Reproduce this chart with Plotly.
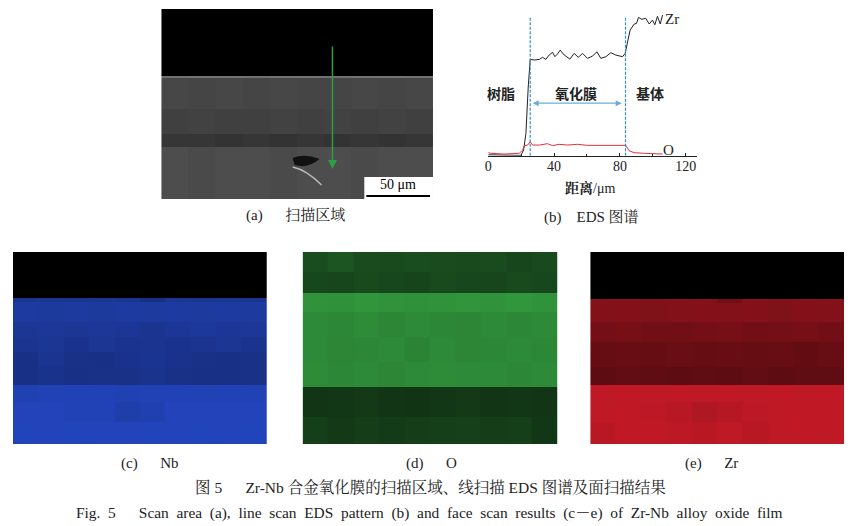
import plotly.graph_objects as go

W = 856
H = 526

# EDS line scan
zr_x = [0, 10, 19.8, 21.5, 22.9, 24.3, 25.5, 27.9, 31.0, 33.0, 35.0, 37.0, 39.1, 40.5, 42.1, 43.7, 46.2, 49.6,
        52.2, 54.7, 57.3, 60.3, 63.4, 66.0, 68.4, 71.5, 74.5, 77.5, 81.6, 83.2, 84.6, 86.2, 88.7, 90.1, 91.3,
        93.3, 95.7, 97.8, 99.8, 101.2, 102.8, 104.5, 105.9]
zr_y = [0.6, 0.4, 0.2, 3.8, 14.9, 45.8, 64.2, 63.8, 64.2, 65.6, 64.2, 67.1, 68.9, 66.0, 67.8, 70.4, 67.1, 64.4,
        68.2, 65.6, 68.2, 64.9, 66.4, 69.3, 64.9, 66.0, 68.7, 67.1, 66.0, 68.2, 76.0, 83.8, 87.8, 88.2, 92.2,
        90.9, 91.6, 87.8, 90.4, 87.3, 92.9, 87.8, 93.8]
o_x = [0, 1.6, 9.7, 18.8, 21.0, 21.9, 23.9, 25.5, 26.9, 31.0, 36.0, 39.1, 43.0, 48.2, 54.2, 60.3, 70.4, 78.5,
       83.6, 85.6, 88.7, 94.8, 100.8, 105.9]
o_y = [2.0, 1.6, 1.1, 1.6, 3.8, 6.7, 7.1, 9.3, 7.1, 7.1, 8.0, 6.7, 7.6, 7.1, 7.6, 6.9, 6.9, 6.7,
       6.9, 3.3, 2.0, 1.6, 1.6, 1.1]
boundary_x = [25.5, 83.4]
x_ticks = [0, 40, 80, 120]

# image panels: rough brightness per block, band edges counted from the panel top
sem_edges = [0, 67, 69, 100, 125, 138, 190]
sem_grid = [
    [0, 0, 0, 0, 0, 0, 0, 0, 0, 0],
    [.44, .45, .45, .44, .45, .45, .44, .45, .45, .44],
    [.28, .27, .28, .27, .28, .27, .27, .28, .27, .28],
    [.25, .26, .25, .25, .26, .25, .26, .25, .26, .25],
    [.21, .21, .20, .21, .20, .21, .20, .21, .20, .21],
    [.30, .29, .30, .30, .29, .30, .30, .29, .30, .30],
]
nb_edges = [0, 46, 50, 70, 85, 100, 115, 133, 150, 170, 192]
nb_grid = [
    [0, 0, 0, 0, 0, 0, 0, 0, 0, 0],
    [.66, .67, .66, .67, .66, .60, .67, .66, .67, .66],
    [.73, .71, .72, .71, .73, .72, .73, .72, .73, .72],
    [.67, .69, .67, .69, .68, .65, .68, .70, .68, .69],
    [.65, .67, .63, .67, .64, .65, .63, .65, .67, .64],
    [.61, .65, .62, .61, .63, .66, .63, .62, .61, .62],
    [.61, .63, .61, .62, .62, .64, .62, .61, .61, .62],
    [.81, .82, .83, .83, .81, .82, .83, .82, .83, .82],
    [.84, .84, .83, .83, .77, .80, .84, .84, .84, .84],
    [.85, .84, .85, .84, .84, .85, .84, .85, .84, .85],
]
ox_edges = [0, 20, 41, 60, 85, 110, 135, 165, 192]
ox_grid = [
    [.42, .46, .41, .40, .42, .41, .40, .41, .38, .40],
    [.39, .38, .40, .39, .37, .40, .39, .38, .40, .39],
    [.80, .79, .81, .80, .79, .80, .81, .80, .82, .80],
    [.75, .74, .76, .73, .75, .74, .73, .75, .74, .75],
    [.75, .73, .74, .75, .72, .75, .73, .74, .75, .74],
    [.76, .74, .75, .73, .75, .76, .75, .75, .74, .75],
    [.29, .30, .31, .29, .28, .30, .31, .29, .30, .29],
    [.34, .31, .33, .32, .33, .34, .35, .33, .34, .30],
]
zr_edges = [0, 47, 51, 70, 90, 115, 133, 150, 170, 192]
zr_grid = [
    [0, 0, 0, 0, 0, 0, 0, 0, 0, 0],
    [.60, .61, .60, .61, .60, .52, .61, .60, .61, .60],
    [.60, .61, .59, .60, .61, .60, .61, .59, .61, .60],
    [.54, .55, .53, .52, .54, .55, .53, .54, .55, .53],
    [.47, .48, .47, .49, .47, .48, .47, .48, .46, .48],
    [.43, .45, .44, .43, .44, .43, .45, .43, .44, .44],
    [.88, .89, .88, .89, .88, .89, .88, .89, .88, .89],
    [.88, .89, .87, .85, .81, .84, .87, .88, .89, .88],
    [.85, .89, .89, .87, .85, .88, .85, .88, .89, .88],
]
block_x = [0, .1, .2, .3, .4, .5, .6, .7, .8, .9, 1]


def px(x):
    return x / W


def py(y):
    return 1 - y / H


PANELS = [
    # name, left, top, right, bottom, colour, edges, grid
    ("a", 158, 9, 431, 199, "#ffffff", sem_edges, sem_grid),
    ("c", 9, 252, 264, 444, "#2850dc", nb_edges, nb_grid),
    ("d", 300, 252, 556, 444, "#3cb84a", ox_edges, ox_grid),
    ("e", 589, 252, 844, 444, "#d81c2a", zr_edges, zr_grid),
]

fig = go.Figure()
layout_axes = {}
for i, (name, left, top, right, bottom, colour, edges, grid) in enumerate(PANELS, start=2):
    fig.add_trace(go.Heatmap(
        x=block_x,
        y=edges,
        z=grid,
        zmin=0, zmax=1,
        colorscale=[[0, "#000000"], [1, colour]],
        showscale=False,
        hoverinfo="skip",
        xaxis=f"x{i}",
        yaxis=f"y{i}",
    ))
    layout_axes[f"xaxis{i}"] = dict(domain=[px(left), px(right)], range=[0, 1], visible=False,
                                    anchor=f"y{i}", fixedrange=True)
    layout_axes[f"yaxis{i}"] = dict(domain=[py(bottom), py(top)], range=[edges[-1], 0], visible=False,
                                    anchor=f"x{i}", fixedrange=True)

# EDS chart on the main axes
fig.add_trace(go.Scatter(x=zr_x, y=zr_y, mode="lines", line=dict(color="#222222", width=1), hoverinfo="skip"))
fig.add_trace(go.Scatter(x=o_x, y=o_y, mode="lines", line=dict(color="#e0303f", width=1), hoverinfo="skip"))
for bx in boundary_x:
    fig.add_shape(type="line", x0=bx, x1=bx, y0=0, y1=93, xref="x", yref="y",
                  line=dict(color="#2f8fc8", width=1.2, dash="3px,1.5px"))

SERIF = "Liberation Serif, Noto Serif CJK SC, Noto Sans CJK SC"
CJK = "Noto Sans CJK SC"


def label(x, y, text, size=15, color="#222222", family=SERIF):
    fig.add_annotation(x=px(x), y=py(y), xref="paper", yref="paper", text=text, showarrow=False,
                       font=dict(size=size, color=color, family=family), xanchor="center", yanchor="middle")


# double headed arrow across the oxide film
fig.add_annotation(x=27, y=35, ax=82, ay=35, xref="x", yref="y", axref="x", ayref="y", text="",
                   showarrow=True, arrowhead=2, arrowside="end+start", arrowsize=1, arrowwidth=1.2,
                   arrowcolor="#6aaed6")

label(499, 93, "<b>树脂</b>", 14, family=CJK)
label(575, 93, "<b>氧化膜</b>", 14, family=CJK)
label(649, 93, "<b>基体</b>", 14, family=CJK)
label(671, 19, "Zr", 15)
label(668, 150, "O", 15)
label(589, 188, "<b>距离</b>/μm", 14)

# scale box, scan arrow and crater in the SEM image
fig.add_shape(type="rect", x0=px(362), x1=px(431), y0=py(177), y1=py(199), xref="paper", yref="paper",
              fillcolor="white", line=dict(width=0))
fig.add_shape(type="line", x0=px(364), x1=px(428), y0=py(196), y1=py(196), xref="paper", yref="paper",
              line=dict(color="black", width=2))
label(396, 184, "50 μm", 14, color="black")
fig.add_shape(type="path", xref="paper", yref="paper", fillcolor="#111111", line=dict(width=0),
              path=f"M {px(290)} {py(158)} Q {px(302)} {py(153)} {px(317)} {py(159)} Q {px(305)} {py(169)} {px(292)} {py(165)} Z")
fig.add_shape(type="path", xref="paper", yref="paper", line=dict(color="#b8b8b8", width=1.5),
              path=f"M {px(290)} {py(167)} Q {px(304)} {py(170)} {px(319)} {py(185)}")
fig.add_annotation(x=px(330), y=py(169), xref="paper", yref="paper", ax=0, ay=-124, text="",
                   showarrow=True, arrowhead=2, arrowsize=1.2, arrowwidth=1.5, arrowcolor="#2e9e44")

# captions
EN = "\u2002"
label(293, 216, f"(a){EN}{EN}{EN}扫描区域")
label(590, 217, f"(b){EN}{EN}EDS 图谱")
label(146, 463, f"(c){EN}{EN}{EN}Nb")
label(430, 463, f"(d){EN}{EN}{EN}O")
label(711, 463, f"(e){EN}{EN}{EN}Zr")
label(428, 487, f"图 5{EN}{EN}{EN}Zr-Nb 合金氧化膜的扫描区域、线扫描 EDS 图谱及面扫描结果", 15.5)
fig_en = "Fig. 5   Scan area (a), line scan EDS pattern (b) and face scan results (c－e) of Zr-Nb alloy oxide film"
label(427, 513, fig_en.replace(" ", EN), 15.4)

fig.update_layout(
    width=W, height=H,
    margin=dict(l=0, r=0, t=0, b=0),
    paper_bgcolor="white",
    plot_bgcolor="rgba(0,0,0,0)",
    showlegend=False,
    xaxis=dict(domain=[px(486.5), px(696.7)], range=[0, 127.1], tickmode="array", tickvals=x_ticks,
               showgrid=False, zeroline=False, showline=True, linecolor="#222222", linewidth=1,
               ticks="inside", ticklen=3, tickcolor="#222222", minor=dict(dtick=20, ticks="inside", ticklen=2),
               ticklabelstandoff=-3,
               tickfont=dict(size=14, color="#222222", family=SERIF), fixedrange=True),
    yaxis=dict(domain=[py(155.7), py(5.7)], range=[0, 100], visible=False, fixedrange=True),
    **layout_axes,
)

fig.write_html("out.html", config={"displayModeBar": False},
               post_script="document.body.style.margin='0';document.body.style.overflow='hidden';")
